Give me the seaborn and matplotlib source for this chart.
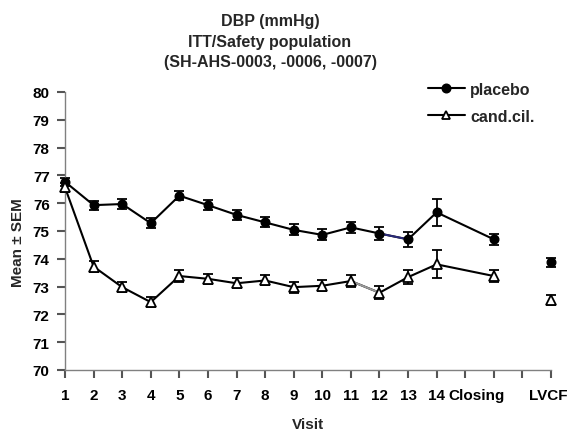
import numpy as np
import pandas as pd
import matplotlib
matplotlib.use("Agg")
import matplotlib.pyplot as plt
from matplotlib.lines import Line2D
import seaborn as sns

# ---- data -------------------------------------------------------------
visit_labels = ["1", "2", "3", "4", "5", "6", "7", "8", "9", "10",
                "11", "12", "13", "14", "Closing", "LVCF"]

placebo_mean = [76.77, 75.93, 75.97, 75.28, 76.27, 75.93, 75.58, 75.31,
                75.04, 74.86, 75.13, 74.91, 74.70, 75.67, 74.70, 73.88]
placebo_sem = [0.15, 0.16, 0.17, 0.17, 0.17, 0.18, 0.18, 0.18,
               0.20, 0.20, 0.20, 0.24, 0.26, 0.48, 0.20, 0.16]

candcil_mean = [76.57, 73.72, 72.98, 72.44, 73.38, 73.28, 73.12, 73.22,
                72.98, 73.03, 73.20, 72.78, 73.34, 73.80, 73.38, 72.51]
candcil_sem = [0.16, 0.20, 0.18, 0.18, 0.20, 0.18, 0.18, 0.18,
               0.20, 0.20, 0.20, 0.24, 0.24, 0.50, 0.20, 0.18]

series_names = ["placebo", "cand.cil."]
title_lines = ["DBP (mmHg)", "ITT/Safety population", "(SH-AHS-0003, -0006, -0007)"]
y_ticks = list(range(70, 81))

# ---- layout -----------------------------------------------------------
# visits sit on consecutive slots; Closing and LVCF are each set one slot apart
slots = list(range(14)) + [15, 17]
n_slots = 17

sns.set_theme(style="ticks")
plt.rcParams["font.family"] = ["Liberation Sans", "DejaVu Sans"]
plt.rcParams["font.weight"] = "bold"

df = pd.concat([
    pd.DataFrame({"slot": slots, "visit": visit_labels, "mean": placebo_mean,
                  "sem": placebo_sem, "group": series_names[0]}),
    pd.DataFrame({"slot": slots, "visit": visit_labels, "mean": candcil_mean,
                  "sem": candcil_sem, "group": series_names[1]}),
], ignore_index=True)

fig = plt.figure(figsize=(5.69, 4.31), dpi=100)
fig.patch.set_facecolor("white")
ax = fig.add_axes([65 / 569, 1 - 371 / 431, (551 - 65) / 569, (371 - 93) / 431])
ax.set_facecolor("white")

styles = {
    series_names[0]: dict(marker="o", ms=6.2, mfc="black", mec="black", mew=1.0),
    series_names[1]: dict(marker="^", ms=7.5, mfc="white", mec="black", mew=1.3),
}

connected = df[df["visit"] != "LVCF"]

# error bars (SEM)
for name in series_names:
    d = df[df["group"] == name]
    ax.errorbar(d["slot"], d["mean"], yerr=d["sem"], fmt="none",
                ecolor="black", elinewidth=1.3, capsize=3.6, capthick=1.3,
                zorder=2, clip_on=False)

# connecting lines from visit 1 to Closing
sns.lineplot(data=connected, x="slot", y="mean", hue="group",
             palette=["black", "black"], linewidth=1.5, legend=False,
             ax=ax, zorder=3, errorbar=None, sort=True)

# a couple of segments carry a different stroke colour
seg_p = connected[connected["group"] == series_names[0]].iloc[11:13]
ax.plot(seg_p["slot"], seg_p["mean"], color="#2a2a7a", lw=1.4, zorder=3.5)
seg_c = connected[connected["group"] == series_names[1]].iloc[10:12]
ax.plot(seg_c["slot"], seg_c["mean"], color="#9a9a9a", lw=1.4, zorder=3.5)

# markers
for name in series_names:
    d = df[df["group"] == name]
    ax.plot(d["slot"], d["mean"], linestyle="none", zorder=4, clip_on=False,
            **styles[name])

# ---- axes -------------------------------------------------------------
ax.set_xlim(0, n_slots)
ax.set_ylim(y_ticks[0], y_ticks[-1])
ax.set_yticks(y_ticks)
ax.set_yticklabels([str(t) for t in y_ticks], fontsize=11, fontweight="bold")

# tick marks on every slot (major), category labels on their own (minor) ticks
ax.xaxis.remove_overlapping_locs = False
ax.set_xticks(np.arange(0, n_slots + 1))
ax.set_xticklabels([])
label_pos = slots[:14] + [14.4, 16.9]
ax.set_xticks(label_pos, minor=True)
ax.set_xticklabels(visit_labels, minor=True, fontsize=11, fontweight="bold")

ax.tick_params(axis="both", which="major", direction="out", length=6,
               width=1.5, color="#555555", labelcolor="black",
               bottom=True, left=True)
ax.tick_params(axis="x", which="minor", length=0, pad=13, labelcolor="black")
ax.tick_params(axis="y", which="major", pad=5)

sns.despine(ax=ax)
for side in ["left", "bottom"]:
    ax.spines[side].set_color("#808080")
    ax.spines[side].set_linewidth(1.0)

ax.set_xlabel("Visit", fontsize=11, fontweight="bold")
ax.xaxis.set_label_coords(0.5, (371 - 425) / 278)
ax.xaxis.label.set_va("center")
ax.set_ylabel("Mean \u00b1 SEM", fontsize=11, fontweight="bold")
ax.yaxis.set_label_coords((18 - 65) / 486, (371 - 243) / 278)
ax.yaxis.label.set_va("center")

# ---- title ------------------------------------------------------------
for line, yc in zip(title_lines, [21.7, 42.3, 62.5]):
    fig.text(270 / 569, 1 - yc / 431, line, ha="center", va="center",
             fontsize=11.5, fontweight="bold")

# ---- legend -----------------------------------------------------------
handles = [Line2D([], [], color="black", lw=1.5, **styles[n]) for n in series_names]
handles[1].set_markersize(6)
fig.legend(handles, series_names, loc="upper left",
           bbox_to_anchor=(428 / 569, 1 - 83 / 431), frameon=False,
           handlelength=2.3, handletextpad=0.35,
           labelspacing=0.75, borderpad=0, borderaxespad=0,
           prop={"weight": "bold", "size": 11.5})

fig.savefig("out.png", dpi=100, facecolor="white")
